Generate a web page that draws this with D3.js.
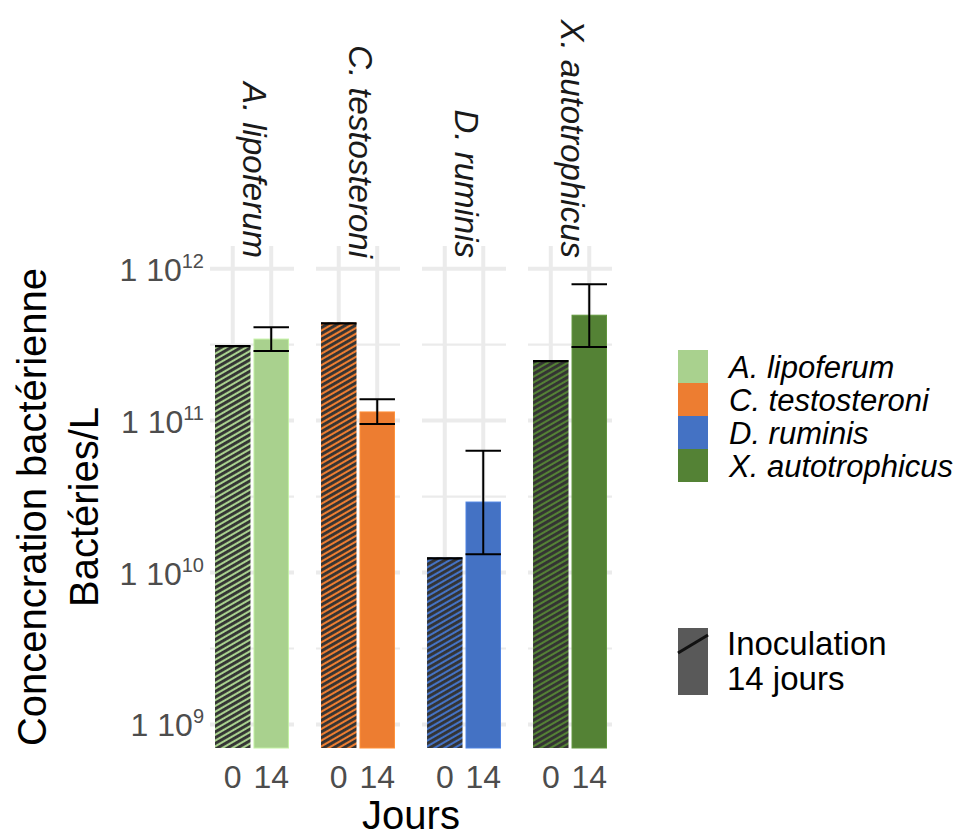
<!DOCTYPE html>
<html>
<head>
<meta charset="utf-8">
<script src="https://cdn.jsdelivr.net/npm/d3@7"></script>
<style>
  html, body { margin: 0; padding: 0; background: #fff; }
  svg { display: block; font-family: "Liberation Sans", Arial, sans-serif; }
</style>
</head>
<body>
<svg id="chart" width="979" height="839"></svg>
<script>
// ---- data ----
const species = ["A. lipoferum", "C. testosteroni", "D. ruminis", "X. autotrophicus"];
const days = ["0", "14"];
const day0Values = [3.14e11, 4.43e11, 1.26e10, 2.50e11];
const day14Values = [3.44e11, 1.14e11, 2.91e10, 4.94e11];
const day14ErrLow = [2.87e11, 9.5e10, 1.32e10, 3.05e11];
const day14ErrHigh = [4.12e11, 1.38e11, 6.33e10, 7.91e11];
const speciesColors = ["#A9D18E", "#ED7D31", "#4472C4", "#548235"];
const yTickValues = [1e9, 1e10, 1e11, 1e12];
const yTickExponents = ["9", "10", "11", "12"];
const yMinorValues = [Math.pow(10, 9.5), Math.pow(10, 10.5), Math.pow(10, 11.5)];
const typeLegendLabels = ["Inoculation", "14 jours"];

// ---- layout ----
const svg = d3.select("#chart");
const panelTop = 246, panelBottom = 748;
const facet = d3.scaleBand().domain(species).range([210, 612]).paddingInner(0.208).paddingOuter(0);
const xIn = d3.scaleBand().domain(days).range([0, facet.bandwidth()]).paddingInner(0.078).paddingOuter(0.13);
const y = d3.scaleLog().domain([7e8, 1.41e12]).range([panelBottom, panelTop]);

svg.append("rect").attr("width", 979).attr("height", 839).attr("fill", "#fff");

// hatch patterns
const defs = svg.append("defs");
species.forEach((s, i) => {
  const p = defs.append("pattern")
    .attr("id", "hatch" + i)
    .attr("patternUnits", "userSpaceOnUse")
    .attr("width", 10).attr("height", 5)
    .attr("patternTransform", "rotate(-30)");
  p.append("rect").attr("width", 10).attr("height", 5).attr("fill", speciesColors[i]);
  p.append("rect").attr("y", 0).attr("width", 10).attr("height", 2.9).attr("fill", "#333333");
});

const rows = species.map((s, i) => ({
  s, i, color: speciesColors[i],
  v0: day0Values[i], v14: day14Values[i], lo: day14ErrLow[i], hi: day14ErrHigh[i]
}));

// panels
const panels = svg.selectAll("g.panel").data(rows).enter().append("g")
  .attr("class", "panel")
  .attr("transform", d => `translate(${facet(d.s)},0)`);

// grid
panels.each(function() {
  const g = d3.select(this);
  const w = facet.bandwidth();
  g.selectAll("line.minor").data(yMinorValues).enter().append("line")
    .attr("x1", 0).attr("x2", w).attr("y1", d => y(d)).attr("y2", d => y(d))
    .attr("stroke", "#ebebeb").attr("stroke-width", 2.2);
  g.selectAll("line.major").data(yTickValues).enter().append("line")
    .attr("x1", 0).attr("x2", w).attr("y1", d => y(d)).attr("y2", d => y(d))
    .attr("stroke", "#ebebeb").attr("stroke-width", 4);
  g.selectAll("line.vmajor").data(days).enter().append("line")
    .attr("x1", d => xIn(d) + xIn.bandwidth() / 2).attr("x2", d => xIn(d) + xIn.bandwidth() / 2)
    .attr("y1", panelTop).attr("y2", panelBottom)
    .attr("stroke", "#ebebeb").attr("stroke-width", 4);
});

// day 0 bars (hatched)
panels.append("rect")
  .attr("x", xIn("0")).attr("width", xIn.bandwidth())
  .attr("y", d => y(d.v0)).attr("height", d => panelBottom - y(d.v0))
  .attr("fill", d => `url(#hatch${d.i})`);
panels.append("line")
  .attr("x1", xIn("0")).attr("x2", xIn("0") + xIn.bandwidth())
  .attr("y1", d => y(d.v0) + 1).attr("y2", d => y(d.v0) + 1)
  .attr("stroke", "#000").attr("stroke-width", 2.2);

// day 14 bars
panels.append("rect")
  .attr("x", xIn("14") + 0.5).attr("width", xIn.bandwidth() - 1)
  .attr("y", d => y(d.v14)).attr("height", d => panelBottom - y(d.v14))
  .attr("fill", d => d.color)
  .attr("stroke", d => d3.color(d.color).brighter(0.4)).attr("stroke-width", 1);

// error bars
const cx14 = xIn("14") + xIn.bandwidth() / 2;
panels.append("line")
  .attr("x1", cx14).attr("x2", cx14)
  .attr("y1", d => y(d.lo)).attr("y2", d => y(d.hi))
  .attr("stroke", "#000").attr("stroke-width", 2);
panels.append("line")
  .attr("x1", xIn("14")).attr("x2", xIn("14") + xIn.bandwidth())
  .attr("y1", d => y(d.lo)).attr("y2", d => y(d.lo))
  .attr("stroke", "#000").attr("stroke-width", 2);
panels.append("line")
  .attr("x1", xIn("14")).attr("x2", xIn("14") + xIn.bandwidth())
  .attr("y1", d => y(d.hi)).attr("y2", d => y(d.hi))
  .attr("stroke", "#000").attr("stroke-width", 2);

// x axes per panel
panels.append("g")
  .attr("transform", `translate(0,${panelBottom})`)
  .each(function() {
    d3.select(this).call(d3.axisBottom(xIn).tickSize(0).tickPadding(17));
  })
  .call(g => g.select(".domain").remove())
  .call(g => g.selectAll("text").attr("font-size", 32).attr("fill", "#4d4d4d")
    .attr("font-family", "'Liberation Sans', Arial, sans-serif"));

// strip labels
panels.append("text")
  .attr("transform", d => `translate(${facet.bandwidth() / 2 - 9},258) rotate(90)`)
  .attr("text-anchor", "end")
  .attr("font-size", 33).attr("font-style", "italic").attr("fill", "#1a1a1a")
  .text(d => d.s);

// y axis
const yAxisG = svg.append("g").attr("transform", "translate(204,0)")
  .call(d3.axisLeft(y).tickValues(yTickValues).tickSize(0).tickPadding(0));
yAxisG.select(".domain").remove();
yAxisG.selectAll("text").each(function(d, i) {
  const t = d3.select(this);
  t.text(null).attr("dy", null).attr("y", 11.5).attr("x", 0)
    .attr("text-anchor", "end").attr("fill", "#4d4d4d")
    .attr("font-family", "'Liberation Sans', Arial, sans-serif");
  t.append("tspan").attr("font-size", 32).text("1 10");
  t.append("tspan").attr("font-size", 20).attr("dy", -13).text(yTickExponents[yTickValues.indexOf(d)]);
});

// axis titles
const yt = svg.append("text")
  .attr("transform", "translate(0,507) rotate(-90)")
  .attr("text-anchor", "middle").attr("font-size", 40).attr("fill", "#000");
yt.append("tspan").attr("x", 0).attr("y", 46).text("Concencration bactérienne");
yt.append("tspan").attr("x", 0).attr("y", 98).text("Bactéries/L");

svg.append("text")
  .attr("x", (facet.range()[0] + facet.range()[1]) / 2).attr("y", 829)
  .attr("text-anchor", "middle").attr("font-size", 40).attr("fill", "#000")
  .text("Jours");

// species legend
const leg = svg.append("g").attr("transform", "translate(678,350)");
const keyH = 33;
leg.selectAll("rect").data(rows).enter().append("rect")
  .attr("x", 0).attr("y", d => d.i * keyH).attr("width", 30).attr("height", keyH)
  .attr("fill", d => d.color);
leg.selectAll("text").data(rows).enter().append("text")
  .attr("x", 51).attr("y", d => d.i * keyH + keyH / 2 + 11)
  .attr("font-size", 31).attr("font-style", "italic").attr("fill", "#000")
  .attr("textLength", null)
  .text(d => d.s);

// type legend
const leg2 = svg.append("g").attr("transform", "translate(678,628)");
leg2.append("rect").attr("width", 30).attr("height", 67).attr("fill", "#595959");
leg2.append("line").attr("x1", 0).attr("y1", 25).attr("x2", 30).attr("y2", 7)
  .attr("stroke", "#111").attr("stroke-width", 3);
leg2.selectAll("text").data(typeLegendLabels).enter().append("text")
  .attr("x", 49).attr("y", (d, i) => 27 + i * 35)
  .attr("font-size", 33).attr("fill", "#000")
  .text(d => d);
</script>
</body>
</html>
